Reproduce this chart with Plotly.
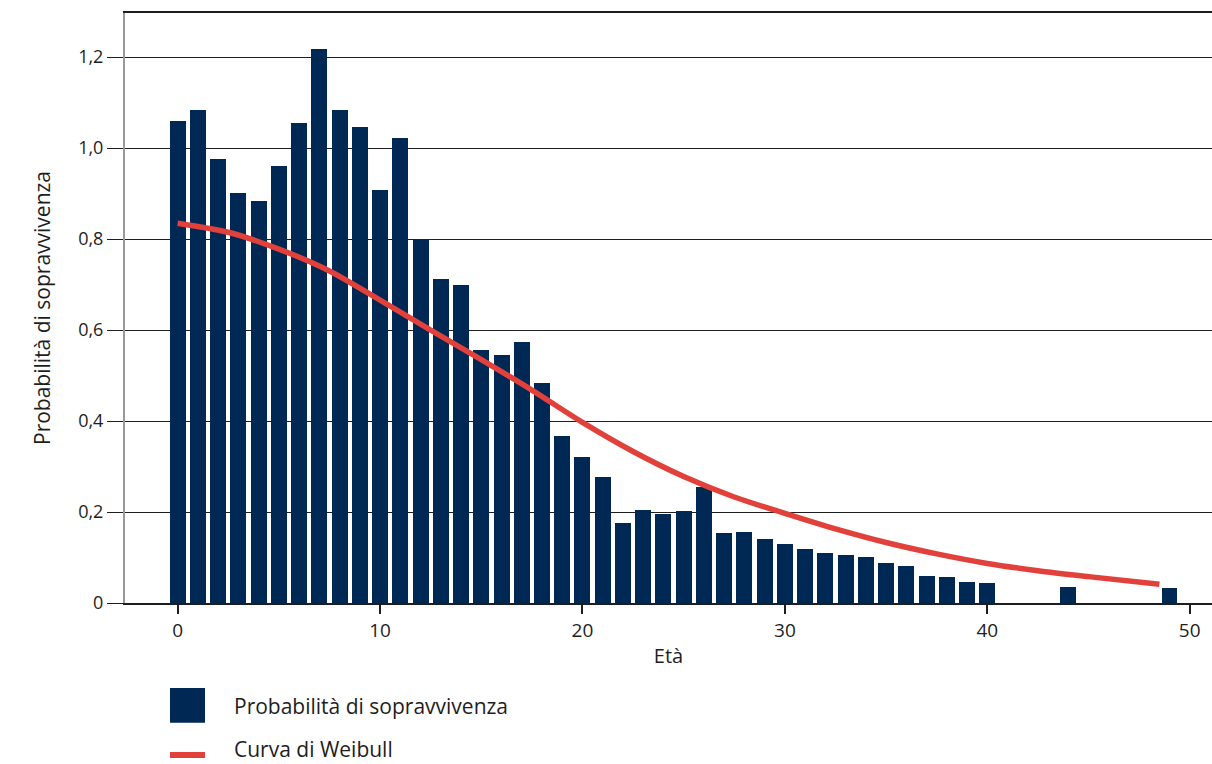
import plotly.graph_objects as go

# ---- data ----
ages = list(range(0, 41)) + [44, 49]
survival = [1.059, 1.084, 0.976, 0.901, 0.884, 0.960, 1.055, 1.218, 1.084, 1.046,
            0.908, 1.022, 0.800, 0.712, 0.699, 0.556, 0.545, 0.574, 0.484, 0.367,
            0.321, 0.277, 0.176, 0.204, 0.196, 0.202, 0.255, 0.154, 0.156, 0.141,
            0.130, 0.119, 0.110, 0.105, 0.101, 0.088, 0.081, 0.059, 0.057, 0.046,
            0.044, 0.035, 0.033]

weibull_ages = [0, 2.5, 5, 7.5, 10, 12.5, 15, 17.5, 20, 22.5, 25, 27.5, 30, 32.5, 35,
                37.5, 40, 42.5, 45, 48.5]
weibull_vals = [0.835, 0.815, 0.778, 0.730, 0.666, 0.600, 0.535, 0.468, 0.397, 0.333,
                0.278, 0.233, 0.197, 0.163, 0.133, 0.108, 0.087, 0.071, 0.058, 0.041]

y_tickvals = [0, 0.2, 0.4, 0.6, 0.8, 1.0, 1.2]
y_ticktext = ["0", "0,2", "0,4", "0,6", "0,8", "1,0", "1,2"]
x_tickvals = [0, 10, 20, 30, 40, 50]

bar_name = "Probabilità di sopravvivenza"
line_name = "Curva di Weibull"
x_title = "Età"
y_title = "Probabilità di sopravvivenza"

NAVY = "#002855"
RED = "#E2413B"
FONT = "Open Sans"
TXT = "#1e1e1e"

fig = go.Figure()
fig.add_trace(go.Bar(x=ages, y=survival, width=0.79, marker=dict(color=NAVY, line=dict(width=0)),
                     name=bar_name, showlegend=False))
fig.add_trace(go.Scatter(x=weibull_ages, y=weibull_vals, mode="lines",
                         line=dict(color=RED, width=5.5, shape="spline", smoothing=0.8),
                         name=line_name, showlegend=False))

fig.update_layout(
    width=1212, height=764,
    margin=dict(l=125, r=0, t=13, b=161),
    paper_bgcolor="white", plot_bgcolor="white",
    font=dict(family=FONT, size=18, color=TXT),
    separators=",.",
    bargap=0,
    xaxis=dict(range=[-2.6, 51.1], tickvals=x_tickvals, ticks="outside", ticklen=9,
               tickwidth=2, tickcolor=TXT, showgrid=False, zeroline=False,
               showline=True, linecolor=TXT, linewidth=1.5, mirror=True,
               title=dict(text=x_title, standoff=7, font=dict(size=20)),
               tickfont=dict(size=19)),
    yaxis=dict(range=[0, 1.297], tickvals=y_tickvals, ticktext=y_ticktext,
               ticks="outside", ticklen=16, tickwidth=1, tickcolor=TXT,
               showgrid=True, gridcolor=TXT, gridwidth=1, zeroline=False,
               showline=True, linecolor="#999", linewidth=2,
               title=dict(text=y_title, standoff=22, font=dict(size=21)),
               tickfont=dict(size=18)),
)

# manual legend (paper coordinates)
fig.add_shape(type="rect", xref="paper", yref="paper", x0=0.0414, x1=0.0736, y0=-0.144, y1=-0.203,
              fillcolor=NAVY, line=dict(width=0))
fig.add_shape(type="line", xref="paper", yref="paper", x0=0.0414, x1=0.0736, y0=-0.2576, y1=-0.2576,
              line=dict(color=RED, width=6))
fig.add_annotation(xref="paper", yref="paper", x=0.0985, y=-0.1746, text=bar_name, showarrow=False,
                   xanchor="left", yanchor="middle", font=dict(size=21, color=TXT))
fig.add_annotation(xref="paper", yref="paper", x=0.0985, y=-0.2475, text=line_name, showarrow=False,
                   xanchor="left", yanchor="middle", font=dict(size=21, color=TXT))

fig.write_html("out.html", config={"displayModeBar": False},
               post_script="document.body.style.margin='0';document.body.style.overflow='hidden';")
